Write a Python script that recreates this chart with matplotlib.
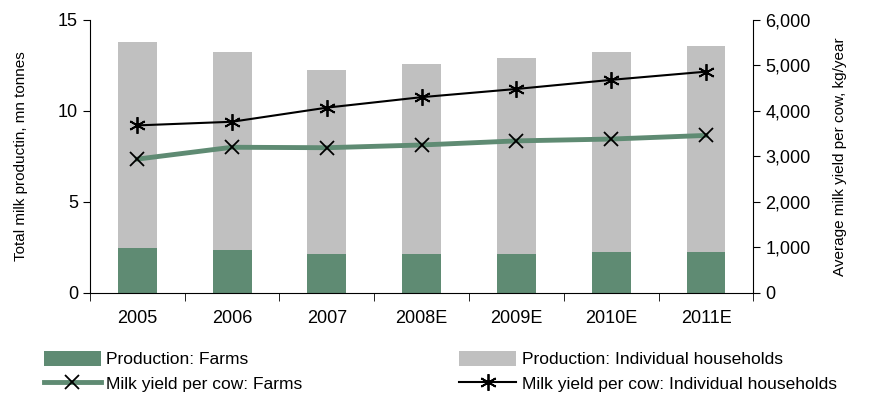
import numpy as np
import matplotlib.pyplot as plt

years = ['2005', '2006', '2007', '2008E', '2009E', '2010E', '2011E']
prod_farms = [2.47, 2.36, 2.14, 2.14, 2.14, 2.25, 2.25]
prod_total = [13.8, 13.24, 12.25, 12.58, 12.9, 13.24, 13.57]
prod_households = [t - f for t, f in zip(prod_total, prod_farms)]
yield_farms = [2940, 3200, 3190, 3250, 3340, 3380, 3460]
yield_households = [3680, 3760, 4070, 4300, 4480, 4680, 4860]

plt.rcParams['font.family'] = ['Liberation Sans', 'DejaVu Sans']

green = '#5f8b73'
grey = '#c0c0c0'

fig = plt.figure(figsize=(8.73, 4.03), dpi=100)
ax = fig.add_axes([0.103, 0.273, 0.76, 0.678])
x = np.arange(len(years))

b1 = ax.bar(x, prod_farms, width=0.41, color=green, label='Production: Farms')
b2 = ax.bar(x, prod_households, width=0.41, bottom=prod_farms, color=grey,
            label='Production: Individual households')
ax.set_xlim(-0.5, len(years) - 0.5)
ax.set_ylim(0, 15)
ax.set_yticks([0, 5, 10, 15])
ax.set_xticks(x)
ax.set_xticklabels(years, fontsize=13)
ax.set_xticks(np.arange(-0.5, len(years)), minor=True)
ax.tick_params(axis='x', which='major', length=0, pad=12)
ax.tick_params(axis='x', which='minor', length=6, direction='out')
ax.tick_params(axis='y', labelsize=13, length=5)
ax.set_ylabel('Total milk productin, mn tonnes', fontsize=11)
ax.yaxis.set_label_coords(-0.094, 0.5)
for s in ['top', 'right']:
    ax.spines[s].set_visible(False)

ax2 = ax.twinx()
l1, = ax2.plot(x, yield_farms, color=green, lw=3.5, marker='x', ms=10,
               mec='black', mew=1.3, label='Milk yield per cow: Farms')
l2, = ax2.plot(x, yield_households, color='black', lw=1.5, marker=(6, 2, 0),
               ms=12, mec='black', mew=1.3,
               label='Milk yield per cow: Individual households')
ax2.set_ylim(0, 6000)
ax2.set_yticks(range(0, 6001, 1000))
ax2.set_yticklabels([f'{v:,}' for v in range(0, 6001, 1000)])
ax2.tick_params(axis='y', labelsize=13, length=5)
ax2.set_ylabel('Average milk yield per cow, kg/year', fontsize=11)
ax2.yaxis.set_label_coords(1.12, 0.5)
for s in ['top', 'left', 'bottom']:
    ax2.spines[s].set_visible(False)

leg_kw = dict(loc='lower left', frameon=False, fontsize=12.5, handlelength=3.3,
              handleheight=1.0, handletextpad=0.3, labelspacing=0.45,
              borderaxespad=0)
fig.legend([b1, l1], [b1.get_label(), l1.get_label()],
           bbox_to_anchor=(0.042, 0.01), **leg_kw)
fig.legend([b2, l2], [b2.get_label(), l2.get_label()],
           bbox_to_anchor=(0.518, 0.01), **leg_kw)

fig.savefig('out.png', dpi=100)
